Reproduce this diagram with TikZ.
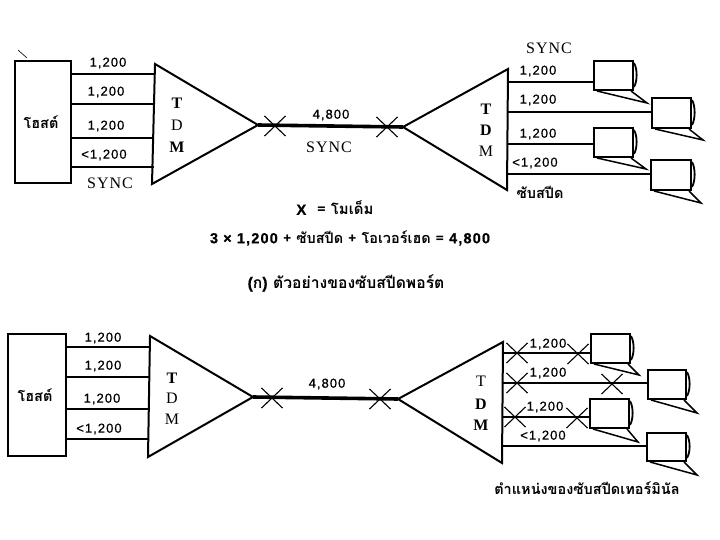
\documentclass[tikz,border=0pt]{standalone}
\usepackage{fontspec}
\setmainfont{Liberation Serif}
\newfontfamily\numf[LetterSpace=8,FakeBold=0.6]{Liberation Sans}
\newfontfamily\thaif[Script=Thai]{Loma}
\usetikzlibrary{shapes.misc}
\tikzset{
  link/.style={line width=2.8pt},
  heavy/.style={line width=3.6pt},
  edge/.style={line width=2pt,line join=miter},
  boxed/.style={draw,line width=2pt,inner sep=0pt,anchor=north west},
  modem/.style={cross out,draw,line width=1.1pt,inner sep=0pt,minimum width=20pt,minimum height=19pt},
  num/.style={font=\numf\fontsize{13}{15}\selectfont,inner sep=0pt},
  ser/.style={font=\fontsize{16}{18}\selectfont\addfontfeature{LetterSpace=6},inner sep=0pt},
  tdm/.style={font=\fontsize{16}{18}\selectfont,inner sep=0pt},
  thai/.style={font=\thaif\bfseries\fontsize{14.5}{17}\selectfont,inner sep=0pt},
}
% name, x, y, width, height, tail x, tail y
\newcommand{\terminalat}[7]{
  \node[boxed,minimum width=#4pt,minimum height=#5pt] (#1) at (#2,#3) {};
  \coordinate (#1tail) at (#6,#7);
  \draw[line width=1.5pt] ([xshift=4pt]#1.south west) -- (#1tail) -- ([xshift=-3pt]#1.south east);
  \draw[line width=1.8pt] ([yshift=-3pt]#1.north east) .. controls +(3.5,6) and +(3.5,-6) .. ([yshift=4pt]#1.south east);
}
\begin{document}
\begin{tikzpicture}[x=1pt,y=-1pt]
\useasboundingbox (0,0) rectangle (720,540);
\fill[white] (0,0) rectangle (720,540);
% ---------- top ----------
\coordinate (tick1) at (18,50);
\coordinate (tick2) at (27,58);
\draw[line width=.6pt] (tick1) -- (tick2);
\node[boxed,minimum width=56pt,minimum height=122pt] (host) at (14,60) {};
\node[thai] (hostlabel) at ([xshift=-2pt]host.center) {โฮสต์};
\coordinate (ta) at (155,64);
\coordinate (tb) at (152,184);
\coordinate (tc) at (258,125);
\draw[edge] (ta) -- (tc) -- (tb) -- cycle;
\coordinate (ua) at (508,69);
\coordinate (ub) at (507,190);
\coordinate (uc) at (403,127);
\draw[edge] (ua) -- (uc) -- (ub) -- cycle;
\draw[heavy] (tc) -- (uc);
\node[modem] (m1) at (275,126) {};
\node[modem] (m2) at (387,127) {};
\foreach \n/\y in {1/74,2/104,3/138,4/167}{
  \coordinate (in\n) at (154,\y);
  \draw[link] (host.east |- in\n) -- (in\n);
}
\terminalat{a1}{593}{60}{39}{29}{647}{103}
\terminalat{a2}{651}{97}{39}{30}{703}{140}
\terminalat{a3}{593}{127}{39}{29}{646}{169}
\terminalat{a4}{650}{159}{40}{30}{701}{203}
\foreach \n/\y/\t in {1/82/a1,2/112/a2,3/144/a3,4/174/a4}{
  \coordinate (out\n) at (507,\y);
  \draw[link] (out\n) -- (out\n -| \t.west);
}
\node[num] (l1) at (108,63) {1,200};
\node[num] (l2) at (106,92) {1,200};
\node[num] (l3) at (106,126) {1,200};
\node[num] (l4) at (104,155) {<1,200};
\node[ser] (l5) at (110,183) {SYNC};
\node[tdm] (d1) at (177,103) {\textbf{T}};
\node[tdm] (d2) at (177,125) {D};
\node[tdm] (d3) at (177,147) {\textbf{M}};
\node[num] (l6) at (331,115) {4,800};
\node[ser] (l7) at (329,147) {SYNC};
\node[ser] (l8) at (549,48) {SYNC};
\node[num] (l9) at (538,71) {1,200};
\node[num] (l10) at (538,100) {1,200};
\node[num] (l11) at (538,134) {1,200};
\node[num] (l12) at (535,163) {<1,200};
\node[thai] (l13) at (540,192) {ซับสปีด};
\node[tdm] (e1) at (486,109) {\textbf{T}};
\node[tdm] (e2) at (486,130) {\textbf{D}};
\node[tdm] (e3) at (486,151) {M};
\node[thai,font=\thaif\bfseries\fontsize{15}{17}\selectfont] (c1) at (335,208) {\numf\bfseries X\ \ \thaif = โมเด็ม};
\node[thai] (c2) at (350,238) {\numf 3 × 1,200 \thaif + ซับสปีด + โอเวอร์เฮด = \numf 4,800};
\node[thai,font=\thaif\bfseries\fontsize{15.7}{18}\selectfont] (c3) at (346,283) {\numf (\thaif ก\numf ) \thaif ตัวอย่างของซับสปีดพอร์ต};
% ---------- bottom ----------
\node[boxed,minimum width=58pt,minimum height=122pt] (hostb) at (7,333) {};
\node[thai] (hostblabel) at ([xshift=-2pt]hostb.center) {โฮสต์};
\coordinate (va) at (150,336);
\coordinate (vb) at (148,457);
\coordinate (vc) at (253,397);
\draw[edge] (va) -- (vc) -- (vb) -- cycle;
\coordinate (wa) at (503,342);
\coordinate (wb) at (502,463);
\coordinate (wc) at (398,399);
\draw[edge] (wa) -- (wc) -- (wb) -- cycle;
\draw[heavy] (vc) -- (wc);
\node[modem] (m3) at (272,398) {};
\node[modem] (m4) at (380,399) {};
\foreach \n/\y in {1/347,2/377,3/409,4/439}{
  \coordinate (inb\n) at (149,\y);
  \draw[link] (hostb.east |- inb\n) -- (inb\n);
}
\terminalat{b1}{590}{333}{39}{29}{639}{375}
\terminalat{b2}{647}{369}{38}{29}{697}{413}
\terminalat{b3}{589}{398}{39}{29}{638}{442}
\terminalat{b4}{646}{432}{39}{28}{697}{475}
\foreach \n/\y/\t in {1/353/b1,2/383/b2,3/417/b3,4/446/b4}{
  \coordinate (outb\n) at (503,\y);
  \draw[link] (outb\n) -- (outb\n -| \t.west);
}
\foreach \n/\x/\y in {5/517/353,6/578/354,7/517/383,8/612/384,9/515/417,10/577/418}{
  \node[modem] (m\n) at (\x,\y) {};
}
\node[num] (n1) at (103,338) {1,200};
\node[num] (n2) at (103,366) {1,200};
\node[num] (n3) at (102,399) {1,200};
\node[num] (n4) at (99,429) {<1,200};
\node[tdm] (f1) at (172,378) {\textbf{T}};
\node[tdm] (f2) at (172,398) {D};
\node[tdm] (f3) at (172,419) {M};
\node[num] (n5) at (327,384) {4,800};
\node[num] (n6) at (548,344) {1,200};
\node[num] (n7) at (548,373) {1,200};
\node[num] (n8) at (545,407) {1,200};
\node[num] (n9) at (543,436) {<1,200};
\node[tdm] (g1) at (481,381) {T};
\node[tdm] (g2) at (481,404) {\textbf{D}};
\node[tdm] (g3) at (481,425) {\textbf{M}};
\node[thai] (c4) at (587,488) {ตำแหน่งของซับสปีดเทอร์มินัล};
\end{tikzpicture}
\end{document}
